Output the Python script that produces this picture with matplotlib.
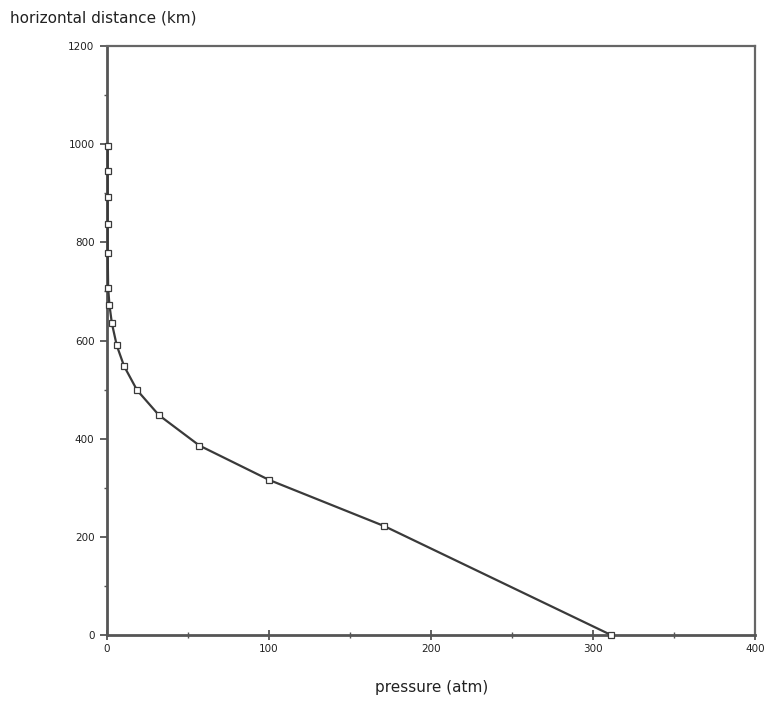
import matplotlib
matplotlib.use("Agg")
import matplotlib.pyplot as plt
from matplotlib.ticker import MultipleLocator

pressure_atm = [311, 171, 100, 57, 32, 18.5, 10.5, 6, 3, 1.5, 0.7, 0.4, 0.4, 0.4, 0.4, 0.4]
distance_km = [0, 222, 316, 386, 448, 499, 548, 590, 635, 672, 707, 778, 837, 892, 945, 996]

fig = plt.figure(figsize=(7.7, 7.02), dpi=100)
ax = fig.add_axes([0.139, 0.0954, 0.842, 0.839])

ax.plot(pressure_atm, distance_km, color="#3a3a3a", lw=1.6,
        marker="s", markersize=5, markerfacecolor="white",
        markeredgecolor="#3a3a3a", markeredgewidth=0.9, zorder=3, clip_on=False)

ax.set_xlim(0, 400)
ax.set_ylim(0, 1200)
ax.xaxis.set_major_locator(MultipleLocator(100))
ax.xaxis.set_minor_locator(MultipleLocator(50))
ax.yaxis.set_major_locator(MultipleLocator(200))
ax.yaxis.set_minor_locator(MultipleLocator(100))

for s in ["left", "bottom"]:
    ax.spines[s].set_linewidth(2.0)
    ax.spines[s].set_color("#555555")
for s in ["right", "top"]:
    ax.spines[s].set_linewidth(1.6)
    ax.spines[s].set_color("#666666")

ax.tick_params(axis="x", which="major", direction="inout", length=7, width=1.3,
               colors="#555555", labelcolor="#222222", labelsize=7.5, pad=3)
ax.tick_params(axis="x", which="minor", direction="inout", length=4, width=1.0, colors="#555555")
ax.tick_params(axis="y", which="major", direction="out", length=5, width=1.3,
               colors="#555555", labelcolor="#222222", labelsize=7.5, pad=4)
ax.tick_params(axis="y", which="minor", direction="out", length=2.5, width=1.0, colors="#555555")

fig.text(0.013, 0.974, "horizontal distance (km)", fontsize=11, color="#222222",
         ha="left", va="center")
fig.text(0.561, 0.020, "pressure (atm)", fontsize=11, color="#222222",
         ha="center", va="center")

fig.savefig("out.png", dpi=100, facecolor="white")
